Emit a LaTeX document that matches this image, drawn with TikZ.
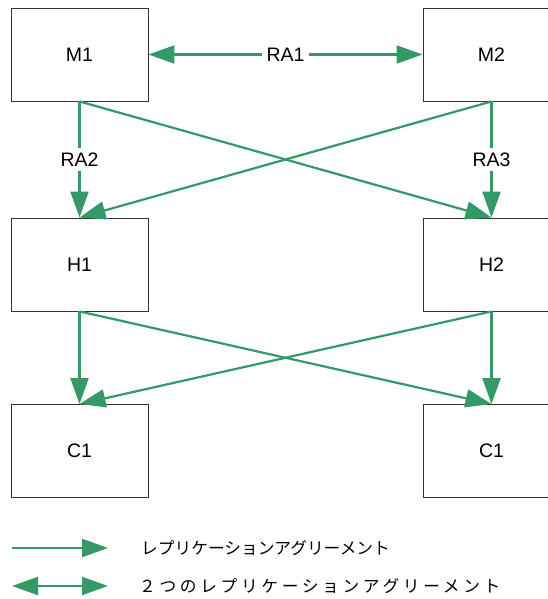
\documentclass[tikz,border=0pt]{standalone}
\usepackage{fontspec}
\setmainfont{Liberation Sans}
\newfontfamily\jpfont{Noto Sans CJK JP}
\newfontfamily\jpspaced[LetterSpace=22]{Noto Sans CJK JP}
\usetikzlibrary{arrows.meta}

\definecolor{ragreen}{RGB}{51,153,102}

\begin{document}
\begin{tikzpicture}[x=1pt,y=-1pt,
    server/.style={draw=black!80,line width=0.9pt,minimum width=137pt,minimum height=93pt,inner sep=0pt,font=\fontsize{19.5}{22}\selectfont},
    ra/.style={ragreen,line width=2.2pt,-{Triangle[length=26pt,width=18pt]}},
    rab/.style={ragreen,line width=2.2pt,{Triangle[length=26pt,width=18pt]}-{Triangle[length=26pt,width=18pt]}},
    ralabel/.style={fill=white,text=black,inner sep=5pt,font=\fontsize{19.5}{22}\selectfont}]
          \useasboundingbox (0,0) rectangle (548,599);

          \node[server] (m1) at (79.5,54.5) {M1};
          \node[server] (m2) at (491.5,54.5) {M2};
          \node[server] (h1) at (79.5,264.5) {H1};
          \node[server] (h2) at (491.5,264.5) {H2};
          \node[server] (c1) at (79.5,451) {C1};
          \node[server] (c2) at (491.5,451) {C1};

          \draw[rab] (m1) -- node[ralabel] {RA1} (m2);
          \draw[ra] (m1.south) -- node[ralabel] {RA2} (h1.north);
          \draw[ra] (m2.south) -- node[ralabel] {RA3} (h2.north);
          \path[ra] (m1.south) edge (h2.north)  (m2.south) edge (h1.north);
          \path[ra] (h1.south) edge (c1.north)  (h1.south) edge (c2.north)
                    (h2.south) edge (c1.north)  (h2.south) edge (c2.north);

          % legend
          \coordinate (l1a) at (12,548);
          \coordinate (l1b) at (108,548);
          \coordinate (l2a) at (12,586);
          \coordinate (l2b) at (108,586);
          \draw[ra] (l1a) -- (l1b);
          \draw[rab] (l2a) -- (l2b);
          \node[anchor=west,inner sep=0pt,font=\fontsize{16.7}{20}\jpfont] (t1) at (141,548) {レプリケーションアグリーメント};
          \node[anchor=west,inner sep=0pt,font=\fontsize{16.7}{20}\jpspaced] (t2) at (139,586) {２つのレプリケーションアグリーメント};
        \end{tikzpicture}
\end{document}
